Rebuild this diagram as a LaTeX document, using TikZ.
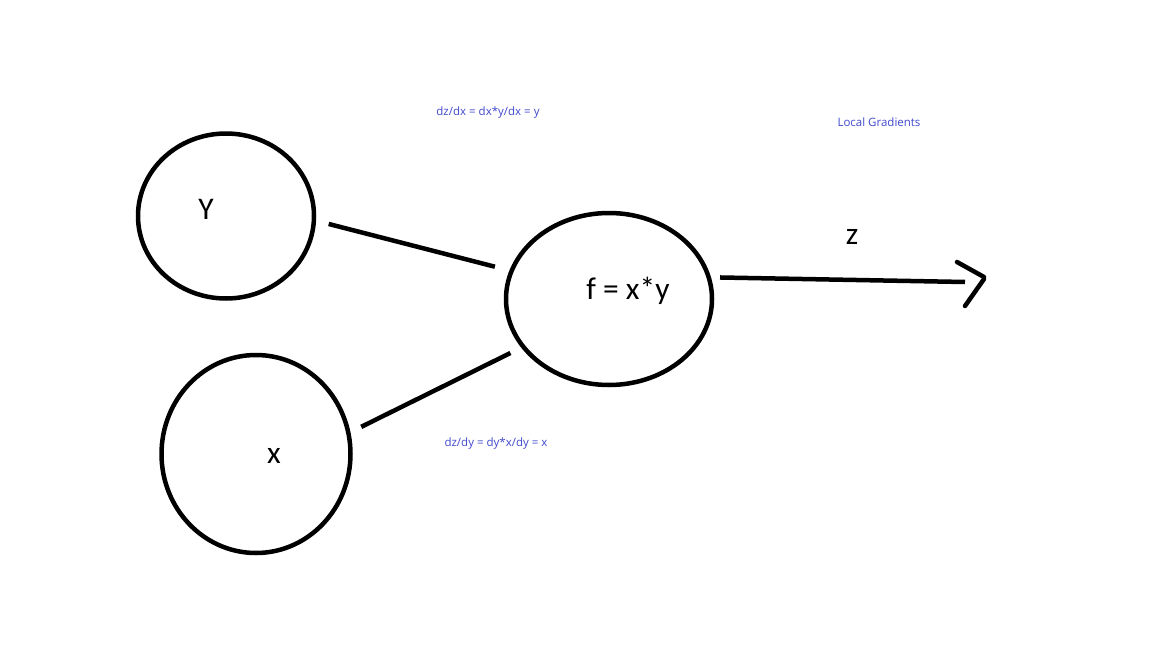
\documentclass[tikz,border=0pt]{standalone}
\usepackage{fontspec}
\setmainfont{Carlito}
\newfontfamily\notefont{Open Sans}
\usetikzlibrary{shapes.geometric}
\definecolor{paintblue}{RGB}{63,72,204}
\tikzset{
    var/.style={ellipse, draw, line width=4.5pt, inner sep=0pt},
    bigtext/.style={anchor=base, font=\fontsize{31.5}{31.5}\selectfont},
    note/.style={anchor=base, text=paintblue, font=\notefont\fontsize{11.5}{11.5}\selectfont},
}
\begin{document}
\begin{tikzpicture}[x=1pt,y=-1pt]
            \useasboundingbox (0,0) rectangle (1152,648);
            % variables and the function
            \node[var, minimum width=176pt, minimum height=165pt] (Y) at (226,216) {};
            \node[var, minimum width=189pt, minimum height=198pt] (X) at (256,454) {};
            \node[var, minimum width=206pt, minimum height=172pt] (f) at (609,299) {};
            \node[bigtext] (Ytext) at (206,219) {Y};
            \node[bigtext] (Xtext) at (274,463) {x};
            \node[bigtext] (ftext) at (628,299) {f = x*y};
            \node[bigtext] (ztext) at (852,244) {z};
            % connectors
            \draw[line width=4.5pt, shorten <=13pt, shorten >=15pt] (Y.-3) -- (f.164);
            \draw[line width=4.5pt, shorten <=12pt, shorten >=12pt] (X.13) -- (f.209);
            \coordinate (zend) at (965,282);
            \coordinate (tip) at (984,277);
            \draw[line width=4.5pt, shorten <=9pt] (f.12) -- (zend);
            \draw[line width=4.5pt, line cap=round] ([shift={(-27,-15)}]tip) -- (tip);
            \draw[line width=4.5pt, line cap=round] ([shift={(0,2)}]tip) -- ([shift={(-19,29)}]tip);
            % gradients
            \node[note] (dzdx) at (488,115) {dz/dx = dx*y/dx = y};
            \node[note] (dzdy) at (496,446) {dz/dy = dy*x/dy = x};
            \node[note] (local) at (879,126) {Local Gradients};
        \end{tikzpicture}
\end{document}
